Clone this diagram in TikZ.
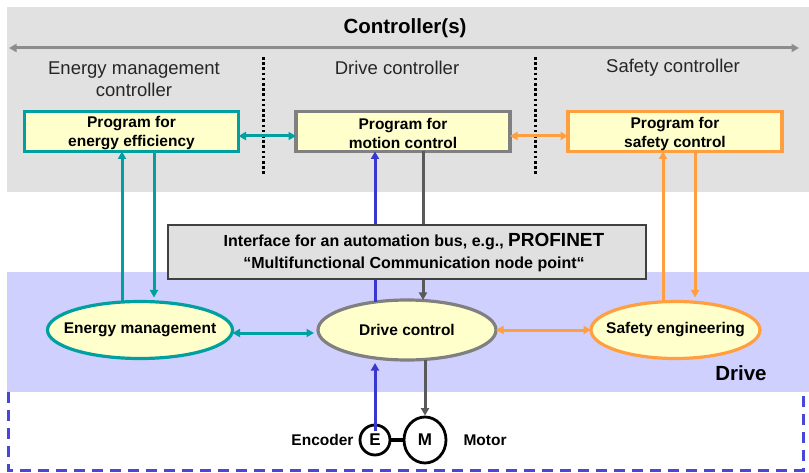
\documentclass[tikz,border=0pt]{standalone}
\usepackage{fontspec}
\setmainfont{Liberation Sans}
\usetikzlibrary{arrows.meta,shapes.geometric,calc}
\definecolor{bggray}{HTML}{E1E1E1}
\definecolor{lav}{HTML}{D0D0FF}
\definecolor{tealc}{HTML}{00A0A0}
\definecolor{orangec}{HTML}{FF9F40}
\definecolor{boxgray}{HTML}{808080}
\definecolor{ifgray}{HTML}{E0E0E0}
\definecolor{ifborder}{HTML}{404040}
\definecolor{yel}{HTML}{FFFFCC}
\definecolor{bluec}{HTML}{3838D0}
\definecolor{dashblue}{HTML}{4848D8}
\definecolor{darkg}{HTML}{5A5A5A}
\definecolor{titleg}{HTML}{8C8C8C}
\tikzset{
  tip/.tip={Triangle[length=7.5pt,width=8pt]},
  progbox/.style={draw,line width=3.2pt,fill=yel,minimum width=214pt,minimum height=40pt,inner sep=0pt,outer sep=0pt},
  progtext/.style={align=center,font=\fontsize{15.5}{19}\selectfont\bfseries,yshift=-2pt},
  ell/.style={draw,ellipse,line width=3.2pt,fill=yel,inner sep=0pt,outer sep=0pt},
  elltext/.style={font=\fontsize{15.5}{18}\selectfont\bfseries},
  lbl/.style={align=center,font=\fontsize{18.5}{22}\selectfont,text=black!85},
  arr/.style={line width=3pt},
  small/.style={font=\fontsize{15.5}{18}\selectfont\bfseries},
}
\begin{document}
\begin{tikzpicture}[x=1pt,y=-1pt]
\useasboundingbox (0,0) rectangle (809,473);
% backgrounds
\fill[bggray] (7,7) rectangle (809,192);
\fill[lav] (7,272) rectangle (809,392);
\draw[dashblue,line width=3pt,dash pattern=on 11pt off 7pt] (8,392) -- (8,470) -- (803,470) -- (803,392);
% title
\node[font=\fontsize{20.5}{24}\selectfont\bfseries] (title) at (405,28) {Controller(s)};
\coordinate (tl) at (9,48);
\coordinate (tr) at (799,48);
\draw[titleg,line width=3pt,{tip}-{tip}] (tl) -- (tr);
% dotted separators
\coordinate (d1a) at (263,57); \coordinate (d1b) at (263,174);
\coordinate (d2a) at (535,57); \coordinate (d2b) at (535,174);
\draw[black,line width=3pt,dash pattern=on 2.6pt off 2.6pt] (d1a) -- (d1b);
\draw[black,line width=3pt,dash pattern=on 2.6pt off 2.6pt] (d2a) -- (d2b);
% labels
\node[lbl] (l1) at (134,79) {Energy management\\controller};
\node[lbl] (l2) at (397,68) {Drive controller};
\node[lbl] (l3) at (673,68) {Safety controller};
% program boxes
\node[progbox,draw=tealc,label={[progtext,name=ebt]center:Program for\\energy efficiency}] (eb) at (131.5,131.5) {};
\node[progbox,draw=boxgray,label={[progtext,name=mbt]center:Program for\\motion control}] (mb) at (403,131.5) {};
\node[progbox,draw=orangec,label={[progtext,name=sbt]center:Program for\\safety control}] (sb) at (675,131.5) {};
\draw[tealc,arr,{tip}-{tip}] ([yshift=-4.5pt]eb.east) -- ([yshift=-4.5pt]mb.west);
\draw[orangec,arr,{tip}-{tip}] ([yshift=-4.5pt]mb.east) -- ([yshift=-4.5pt]sb.west);
% ellipses
\node[ell,draw=tealc,minimum width=185pt,minimum height=57pt,label={[elltext,name=emt]center:Energy management}] (em) at (140,330) {};
\node[ell,draw=boxgray,minimum width=178pt,minimum height=60pt,label={[elltext,name=dct]center:Drive control}] (dc) at (407,330) {};
\node[ell,draw=orangec,minimum width=169pt,minimum height=57pt,label={[elltext,name=set]center:Safety engineering}] (se) at (675.5,330) {};
% vertical connections
\draw[tealc,arr,-{tip}] ([xshift=-18pt,yshift=-1pt]em.north) -- ([xshift=-18pt]em.north |- eb.south);
\draw[tealc,arr,-{tip}] ([xshift=14pt]em.north |- eb.south) -- ([xshift=14pt,yshift=4pt]em.north);
\draw[bluec,arr,-{tip}] ([xshift=-32pt,yshift=-2pt]dc.north) -- ([xshift=-32pt]dc.north |- mb.south);
\draw[darkg,arr,-{tip}] ([xshift=16pt]dc.north |- mb.south) -- ([xshift=16pt]dc.north);
\draw[orangec,arr,-{tip}] ([xshift=-12.5pt,yshift=-1pt]se.north) -- ([xshift=-12.5pt]se.north |- sb.south);
\draw[orangec,arr,-{tip}] ([xshift=19.5pt]se.north |- sb.south) -- ([xshift=19.5pt,yshift=4pt]se.north);
% interface box
\node[draw=ifborder,line width=1.5pt,fill=ifgray,minimum width=478pt,minimum height=54pt,inner sep=0pt,
  label={[name=ift,align=center,font=\fontsize{16}{22}\selectfont\bfseries,xshift=7pt,yshift=-1pt]center:Interface for an automation bus, e.g., {\fontsize{19}{22}\selectfont PROFINET}\\“Multifunctional Communication node point“}] (ifb) at (407,252) {};
% horizontal ellipse connections
\draw[tealc,arr,{tip}-{tip}] ([yshift=-3pt]em.east) -- ([xshift=-4pt,yshift=-3pt]dc.west);
\draw[orangec,arr,{tip}-{tip}] (dc.east) -- (se.west);
% drive label
\node[font=\fontsize{20.5}{24}\selectfont\bfseries] (drv) at (741,373) {Drive};
% encoder, motor
\node[draw,circle,line width=2.8pt,minimum size=30pt,inner sep=0pt,fill=white,font=\fontsize{17}{20}\selectfont\bfseries] (E) at (375,440) {E};
\node[draw,ellipse,line width=2.8pt,minimum width=42pt,minimum height=46pt,inner sep=0pt,fill=white,font=\fontsize{17}{20}\selectfont\bfseries] (M) at (425,440) {M};
\draw[black,line width=3.5pt] (E.east) -- (M.west);
\draw[bluec,arr,-{tip}] ([yshift=9pt]E.center) -- ([yshift=-3pt]E.center |- dc.south);
\draw[darkg,arr,-{tip}] (M.north |- dc.south) -- (M.north);
\node[small,anchor=east] (enc) at (357,440) {Encoder};
\node[small,anchor=west] (mot) at (460,440) {Motor};
\end{tikzpicture}
\end{document}
